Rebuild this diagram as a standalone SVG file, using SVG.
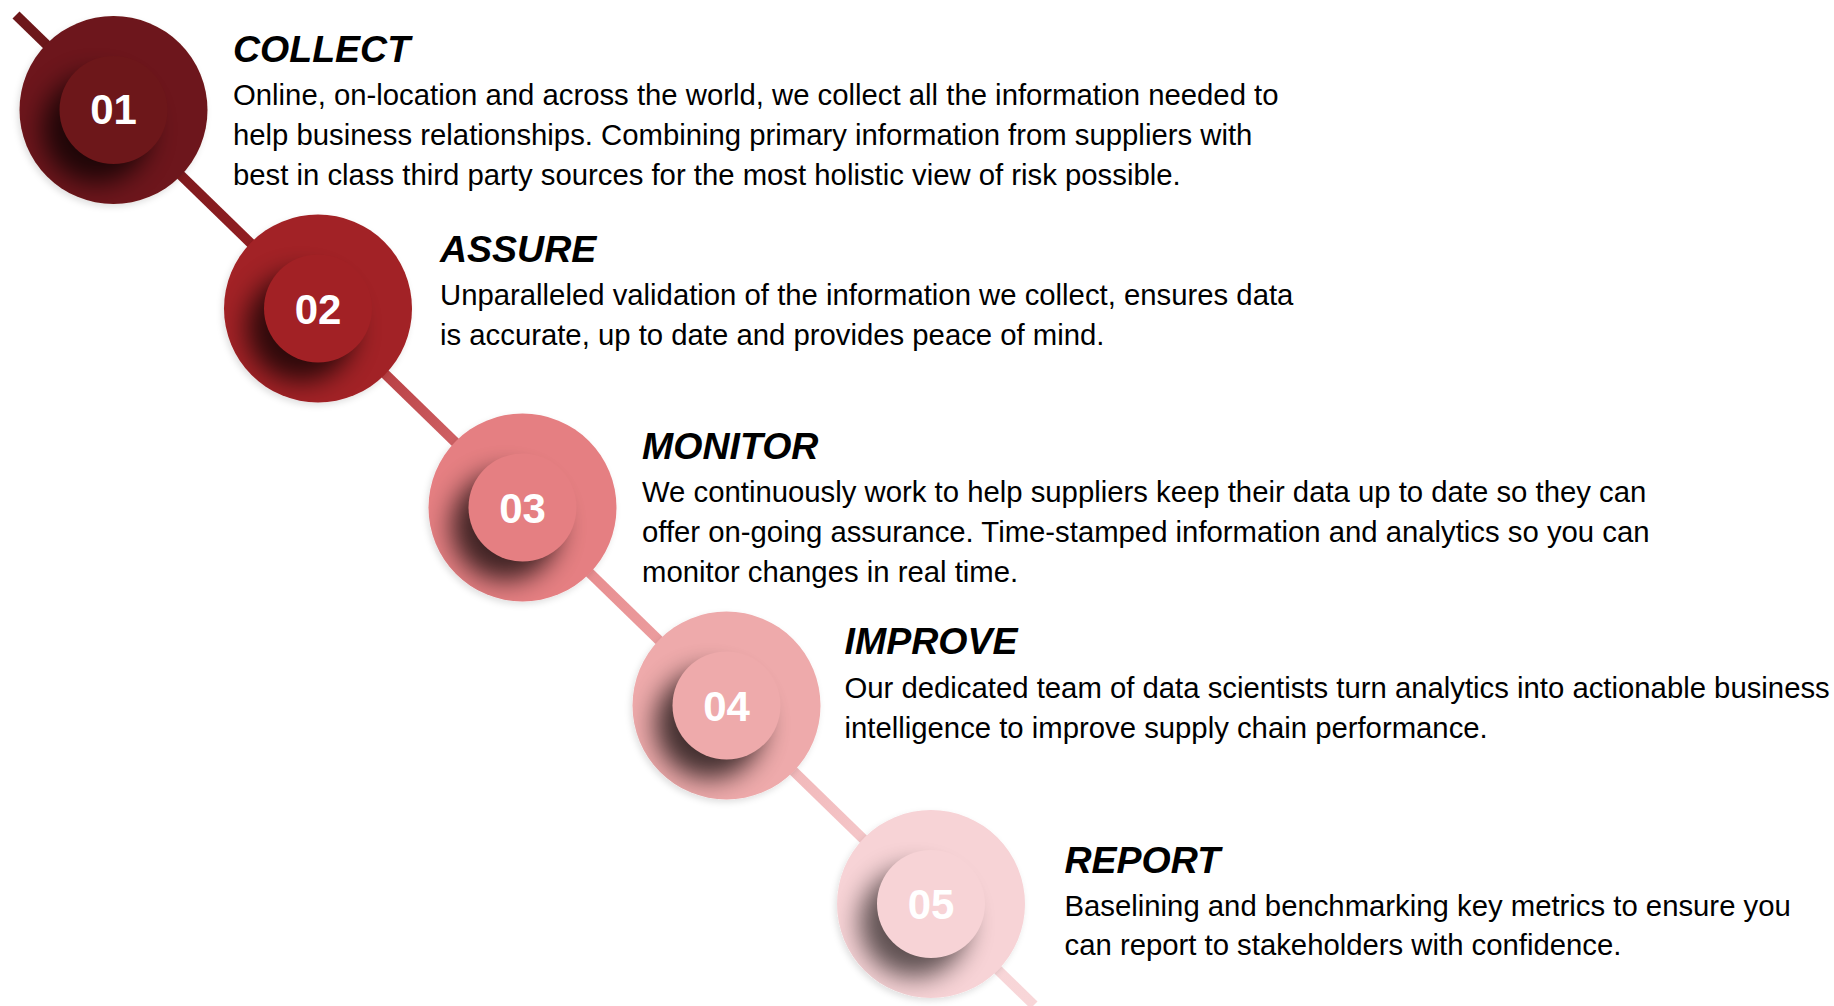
<svg xmlns="http://www.w3.org/2000/svg" width="1834" height="1006" viewBox="0 0 1834 1006">
<style>
.title{font-family:"Liberation Sans",Arial,sans-serif;font-weight:bold;font-style:italic;font-size:37.5px;fill:#000}
.body{font-family:"Liberation Sans",Arial,sans-serif;font-size:29.3px;fill:#000}
.num{font-family:"Liberation Sans",Arial,sans-serif;font-weight:bold;font-size:42px;fill:#fff;text-anchor:middle}
.shadow{fill:#000;opacity:0.72}
</style>
<defs>
<linearGradient id="lineGrad" gradientUnits="userSpaceOnUse" x1="16" y1="15" x2="1034" y2="1005">
<stop offset="0" stop-color="#6d171a"/>
<stop offset="0.095" stop-color="#6d171a"/>
<stop offset="0.295" stop-color="#a22125"/>
<stop offset="0.495" stop-color="#e57f82"/>
<stop offset="0.695" stop-color="#eeaaab"/>
<stop offset="0.895" stop-color="#f7d3d6"/>
<stop offset="1" stop-color="#f8d6d8"/>
</linearGradient>
<clipPath id="disc" clipPathUnits="userSpaceOnUse"><circle cx="0" cy="0" r="94"/></clipPath>
<filter id="blur" x="-80%" y="-80%" width="260%" height="260%"><feGaussianBlur stdDeviation="13"/></filter>
<filter id="outer" x="-20%" y="-20%" width="140%" height="140%"><feDropShadow dx="-2" dy="3" stdDeviation="3" flood-color="#000" flood-opacity="0.12"/></filter>
</defs>

<g id="connectors">
<line x1="16" y1="15" x2="1034" y2="1005" stroke="url(#lineGrad)" stroke-width="10" stroke-linecap="butt"/>
</g>

<g id="step-01">
<g transform="translate(113.5,110)">
<circle r="94" fill="#6d171a" filter="url(#outer)"/>
<g clip-path="url(#disc)"><circle class="shadow" cx="-17" cy="19" r="54" filter="url(#blur)"/></g>
<circle r="54" fill="#6d171a"/>
<text class="num" x="0" y="14">01</text>
</g>
<text class="title" x="233" y="62">COLLECT</text>
<text class="body" x="233" y="105">Online, on-location and across the world, we collect all the information needed to</text>
<text class="body" x="233" y="144.8">help business relationships. Combining primary information from suppliers with</text>
<text class="body" x="233" y="184.6">best in class third party sources for the most holistic view of risk possible.</text>
</g>

<g id="step-02">
<g transform="translate(318,308.5)">
<circle r="94" fill="#a22125" filter="url(#outer)"/>
<g clip-path="url(#disc)"><circle class="shadow" cx="-17" cy="19" r="54" filter="url(#blur)"/></g>
<circle r="54" fill="#a22125"/>
<text class="num" x="0" y="15">02</text>
</g>
<text class="title" x="440" y="262">ASSURE</text>
<text class="body" x="440" y="305">Unparalleled validation of the information we collect, ensures data</text>
<text class="body" x="440" y="344.8">is accurate, up to date and provides peace of mind.</text>
</g>

<g id="step-03">
<g transform="translate(522.5,507.5)">
<circle r="94" fill="#e57f82" filter="url(#outer)"/>
<g clip-path="url(#disc)"><circle class="shadow" cx="-17" cy="19" r="54" filter="url(#blur)"/></g>
<circle r="54" fill="#e57f82"/>
<text class="num" x="0" y="15">03</text>
</g>
<text class="title" x="642" y="458.6">MONITOR</text>
<text class="body" x="642" y="501.6">We continuously work to help suppliers keep their data up to date so they can</text>
<text class="body" x="642" y="542">offer on-going assurance. Time-stamped information and analytics so you can</text>
<text class="body" x="642" y="582">monitor changes in real time.</text>
</g>

<g id="step-04">
<g transform="translate(726.5,705.5)">
<circle r="94" fill="#eeaaab" filter="url(#outer)"/>
<g clip-path="url(#disc)"><circle class="shadow" cx="-17" cy="19" r="54" filter="url(#blur)"/></g>
<circle r="54" fill="#eeaaab"/>
<text class="num" x="0" y="15">04</text>
</g>
<text class="title" x="844.5" y="654">IMPROVE</text>
<text class="body" x="844.5" y="698">Our dedicated team of data scientists turn analytics into actionable business</text>
<text class="body" x="844.5" y="737.8">intelligence to improve supply chain performance.</text>
</g>

<g id="step-05">
<g transform="translate(931,904)">
<circle r="94" fill="#f7d3d6" filter="url(#outer)"/>
<g clip-path="url(#disc)"><circle class="shadow" cx="-17" cy="19" r="54" filter="url(#blur)" style="opacity:0.62"/></g>
<circle r="54" fill="#f7d3d6"/>
<text class="num" x="0" y="15">05</text>
</g>
<text class="title" x="1064.5" y="872.7">REPORT</text>
<text class="body" x="1064.5" y="915.6">Baselining and benchmarking key metrics to ensure you</text>
<text class="body" x="1064.5" y="955.4">can report to stakeholders with confidence.</text>
</g>
</svg>
